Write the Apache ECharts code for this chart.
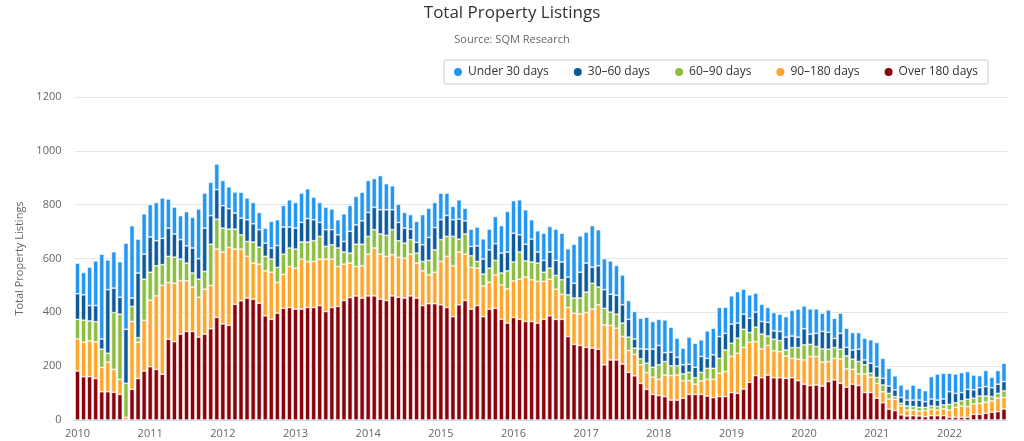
<!DOCTYPE html>
<html>
<head>
<meta charset="utf-8">
<script src="https://cdn.jsdelivr.net/npm/echarts@6/dist/echarts.min.js"></script>
<style>
html,body{margin:0;padding:0;background:#fff;}
#chart{width:1024px;height:441px;}
</style>
</head>
<body>
<div id="chart"></div>
<script>
// Monthly categories Jan 2010 - Oct 2022
var startYear = 2010;
var monthCount = 154;
var yearTicks = ["2010","2011","2012","2013","2014","2015","2016","2017","2018","2019","2020","2021","2022"];
var seriesNames = ["Under 30 days", "30–60 days", "60–90 days", "90–180 days", "Over 180 days"];

var over180 = [
182,161,161,154,105,105,103,95,0,114,154,182,
198,188,170,300,291,319,329,329,308,319,339,381,
357,352,430,443,453,449,434,387,374,397,415,418,
412,412,418,418,425,403,418,422,444,455,461,453,
461,461,449,444,461,456,453,461,453,425,432,432,
428,418,384,428,444,412,425,384,412,415,374,360,
381,374,366,366,360,374,387,374,374,310,281,277,
270,267,263,205,223,223,208,177,164,136,114,95,
91,87,74,74,81,95,95,95,89,83,87,87,
102,99,115,140,165,157,167,157,157,155,157,146,
133,128,130,126,143,149,136,122,133,128,102,102,
81,64,40,35,19,15,16,15,12,16,16,16,
10,10,10,10,21,21,25,29,31,41];

var d90to180 = [
119,128,133,136,90,110,85,56,10,252,135,188,
247,273,330,211,217,199,188,165,148,167,161,254,
267,289,205,192,155,134,145,167,175,114,126,152,
152,186,171,171,173,195,180,148,135,128,109,120,
155,178,167,164,153,148,148,155,130,129,107,117,
161,190,189,196,172,155,139,114,100,124,128,127,
136,149,165,155,155,141,136,112,93,108,116,117,
129,145,165,148,128,118,102,81,80,69,62,64,
60,80,91,93,65,51,38,50,62,68,87,93,
134,149,155,149,126,107,110,100,97,83,72,80,
90,108,106,89,74,80,91,68,55,43,69,57,
55,41,38,42,33,22,21,18,23,24,21,25,
27,37,42,40,39,41,41,42,50,43];

var d60to90 = [
73,82,74,75,68,33,211,242,126,56,17,153,
104,112,77,97,97,80,66,52,67,66,153,111,
89,68,74,53,55,78,63,54,49,56,75,69,
71,63,72,77,84,47,53,69,45,37,83,80,
66,68,75,78,93,62,56,54,37,35,54,83,
81,74,109,48,75,43,25,44,52,54,44,67,
70,101,60,66,68,34,41,51,54,47,56,59,
76,96,66,62,50,52,50,50,23,22,35,37,
54,50,36,34,25,31,24,32,41,41,55,80,
49,56,67,36,54,55,35,43,41,22,40,43,
56,45,37,49,46,40,36,48,38,46,34,15,
22,25,21,10,10,15,13,14,12,12,13,15,
21,17,19,27,21,27,23,16,18,24];

var d30to60 = [
95,94,57,60,38,236,91,63,201,31,240,93,
131,93,98,105,86,72,64,93,76,161,106,110,
83,76,60,62,81,68,65,49,41,81,101,78,
78,73,87,78,52,62,56,49,39,81,72,87,
89,83,90,95,74,68,56,39,40,62,85,83,
74,78,62,74,49,35,58,56,68,62,74,70,
107,64,62,85,41,44,60,56,66,66,55,96,
108,60,79,69,66,70,68,66,34,37,52,67,
72,33,51,32,34,30,39,59,37,50,81,62,
71,56,56,53,56,47,51,31,34,48,43,39,
60,38,49,65,63,34,59,32,34,46,18,37,
40,25,27,25,22,22,24,27,21,26,24,22,
47,35,31,37,31,31,35,33,34,35];

var under30 = [
114,83,143,166,315,111,135,132,320,269,126,150,
120,142,150,108,100,89,127,114,185,130,124,95,
94,81,78,96,81,79,64,56,99,96,80,101,
95,109,111,84,74,84,77,56,103,96,106,106,
119,107,127,97,89,68,58,54,78,112,109,93,
99,83,50,72,47,64,70,75,77,101,102,151,
121,130,128,72,79,101,95,116,107,105,145,135,
115,154,134,115,124,111,111,70,102,114,119,103,
97,122,93,71,62,101,89,62,102,99,108,97,
105,117,93,87,70,64,55,68,64,76,95,104,
85,94,91,68,83,75,75,71,65,62,81,87,
90,74,66,52,46,40,56,44,41,83,97,96,
69,72,74,66,55,45,60,39,51,68];

var categories = [];
for (var i = 0; i < monthCount; i++) {
  var y = startYear + Math.floor(i / 12);
  var m = (i % 12) + 1;
  categories.push(y + "-" + (m < 10 ? "0" + m : m));
}

var colors = {};
colors[seriesNames[0]] = "#2196f3";
colors[seriesNames[1]] = "#0d5a9c";
colors[seriesNames[2]] = "#8cbf3f";
colors[seriesNames[3]] = "#ffa62b";
colors[seriesNames[4]] = "#8b0009";
var FONT = "'Open Sans', 'DejaVu Sans', sans-serif";

function mk(name, data) {
  return {
    name: name, type: 'bar', stack: 'total', data: data,
    barCategoryGap: '22%',
    itemStyle: { color: colors[name], borderColor: '#ffffff', borderWidth: 0.6 },
    emphasis: { disabled: true }
  };
}

var chart = echarts.init(document.getElementById('chart'), null, { renderer: 'canvas' });
chart.setOption({
  animation: false,
  backgroundColor: '#ffffff',
  textStyle: { fontFamily: FONT },
  title: [
    { text: 'Total Property Listings', left: 'center', top: 0,
      textStyle: { fontFamily: FONT, fontSize: 17, fontWeight: 'normal', color: '#333333' } },
    { text: 'Source: SQM Research', left: 'center', top: 29,
      textStyle: { fontFamily: FONT, fontSize: 11, fontWeight: 'normal', color: '#666666' } }
  ],
  legend: {
    data: seriesNames,
    left: 444, top: 60,
    padding: [6, 10, 6, 8],
    itemGap: 23,
    itemWidth: 10, itemHeight: 10,
    icon: 'circle',
    borderColor: '#cccccc', borderWidth: 1, borderRadius: 2,
    textStyle: { fontFamily: FONT, fontSize: 12, color: '#333333' },
    selectedMode: false
  },
  grid: { left: 74.5, right: 17, top: 97, bottom: 21, containLabel: false },
  xAxis: {
    type: 'category',
    data: categories,
    boundaryGap: true,
    axisLine: { lineStyle: { color: '#ccd6eb' } },
    axisTick: {
      alignWithLabel: true, length: 6,
      interval: function (idx, val) { return val.slice(5) === '01'; },
      lineStyle: { color: '#ccd6eb' }
    },
    axisLabel: {
      interval: function (idx, val) { return val.slice(5) === '01'; },
      formatter: function (val) { return val.slice(0, 4); },
      color: '#666666', fontSize: 11, fontFamily: FONT, margin: 8
    },
    splitLine: { show: false }
  },
  yAxis: {
    type: 'value', min: 0, max: 1200, interval: 200,
    name: 'Total Property Listings', nameLocation: 'middle', nameGap: 48,
    nameTextStyle: { color: '#666666', fontSize: 11, fontFamily: FONT },
    axisLine: { show: false }, axisTick: { show: false },
    axisLabel: { color: '#666666', fontSize: 11, fontFamily: FONT, margin: 13,
      formatter: function (v) { return String(v); } },
    splitLine: { lineStyle: { color: '#e6e6e6' } }
  },
  series: [
    mk(seriesNames[4], over180),
    mk(seriesNames[3], d90to180),
    mk(seriesNames[2], d60to90),
    mk(seriesNames[1], d30to60),
    mk(seriesNames[0], under30)
  ]
});
</script>
</body>
</html>
